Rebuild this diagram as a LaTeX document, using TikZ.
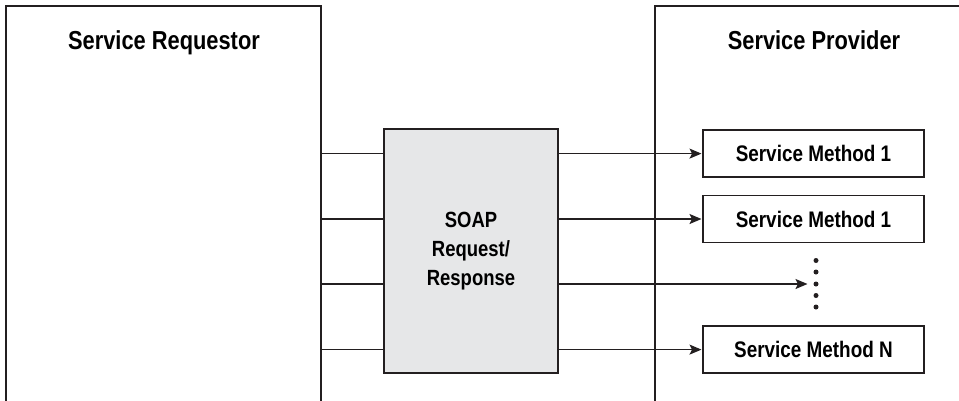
\documentclass[tikz,border=0pt]{standalone}
\usepackage{fontspec}
\setmainfont{Liberation Sans}[FakeStretch=0.84,BoldFont={Liberation Sans Bold}]
\usetikzlibrary{arrows.meta,positioning,calc}
\definecolor{ink}{HTML}{231F20}
\definecolor{soapgray}{HTML}{E6E7E8}
\begin{document}
\begin{tikzpicture}[x=1pt,y=-1pt,
  every node/.style={inner sep=0pt,outer sep=0pt,text=black},
  frame/.style={draw=ink,line width=1.25pt,rectangle},
  method/.style={frame,minimum width=221pt,minimum height=47pt,
    font=\fontsize{22.5}{27}\selectfont\bfseries},
  title/.style={font=\fontsize{26}{30}\selectfont\bfseries,anchor=base},
  link/.style={draw=ink,line width=1.5pt},
  arrowlink/.style={link,-{Stealth[length=12pt,width=10pt,inset=2.5pt]}},
  dot/.style={circle,fill=ink,minimum size=5pt}]
\useasboundingbox (0,0) rectangle (959,400);
\clip (0,0) rectangle (959,400);

% the two parties; their frames run past the lower and right edges
\node[frame,anchor=north west,minimum width=315pt,minimum height=420pt] (req) at (6,6) {};
\node[frame,anchor=north west,minimum width=330pt,minimum height=420pt] (prov) at (655,6) {};
\node[title] (reqtitle) at (164,49) {Service Requestor};
\node[title] (provtitle) at (814,49) {Service Provider};

% SOAP message block
\node[frame,fill=soapgray,minimum width=174pt,minimum height=244pt,
  align=center,font=\fontsize{22}{29}\selectfont\bfseries] (soap) at (471,251)
  {SOAP\\Request/\\Response};

% service methods
\node[method] (m1) at (813.5,153.6) {Service Method 1};
\node[method] (m2) at (813.5,219) {Service Method 1};
\node[method] (mn) at (813.5,349.6) {Service Method N};

% ellipsis column
\node[minimum width=6pt,minimum height=52pt] (dots) at (816,284) {};
\foreach \yy [count=\i] in {260.5,272,284,295.5,307}
  \node[dot] (d\i) at (816,\yy) {};

% connectors from requestor through SOAP to the methods
\draw[link] (req.east |- m1) -- (soap.west |- m1);
\draw[link] (req.east |- m2) -- (soap.west |- m2);
\draw[link] (req.east |- d3) -- (soap.west |- d3);
\draw[link] (req.east |- mn) -- (soap.west |- mn);

\draw[arrowlink] (soap.east |- m1) -- ([xshift=-1.5pt]m1.west);
\draw[arrowlink] (soap.east |- m2) -- ([xshift=-1.5pt]m2.west);
\draw[arrowlink] (soap.east |- d3) -- ([xshift=-8.5pt]d3.center);
\draw[arrowlink] (soap.east |- mn) -- ([xshift=-1.5pt]mn.west);
\end{tikzpicture}
\end{document}
